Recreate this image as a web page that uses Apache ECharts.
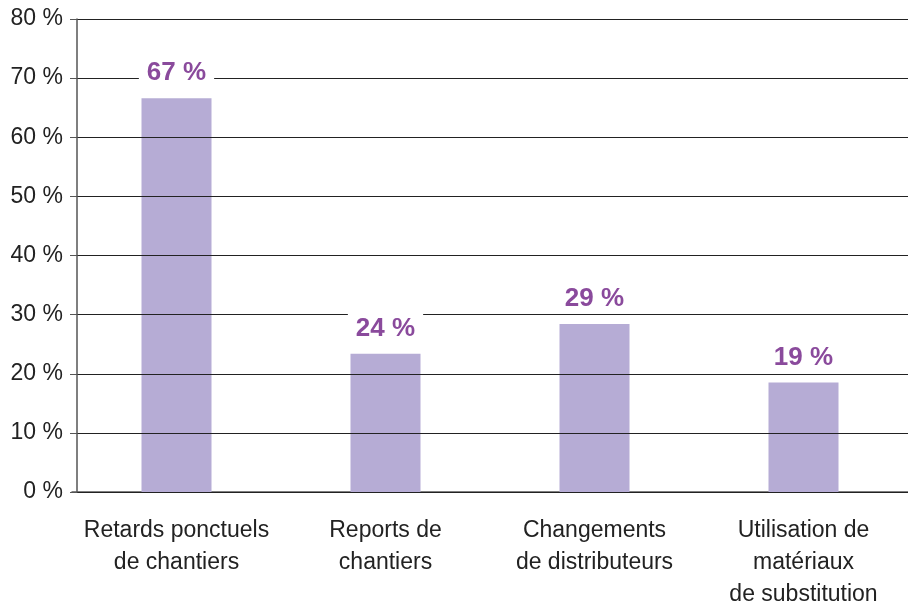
<!DOCTYPE html>
<html>
<head>
    <meta charset="utf-8">
    <title>ECharts</title>
    <script src="https://cdn.jsdelivr.net/npm/echarts@6/dist/echarts.min.js"></script>
    <style>
      html, body { margin: 0; padding: 0; background: #fff; }
      #main { width: 908px; height: 611px; }
    </style>
</head>
<body>
    <div id="main"></div>
    <script type="text/javascript">

// categories and values
let categories = [
  'Retards ponctuels\nde chantiers',
  'Reports de\nchantiers',
  'Changements\nde distributeurs',
  'Utilisation de\nmatériaux\nde substitution'
]
let values = [66.6, 23.4, 28.4, 18.5]
let valueLabels = ['67 %', '24 %', '29 %', '19 %']
let yTicks = [0, 10, 20, 30, 40, 50, 60, 70, 80]

let font = '"Liberation Sans Narrow", "Liberation Sans", Arial, sans-serif'

var option = {
    animation: false,
    grid: {
        left: 72,
        right: -4,
        top: 19,
        bottom: 118
    },
    xAxis: {
        type: 'category',
        data: categories,
        axisLine: { lineStyle: { color: '#555', width: 1.5 } },
        axisTick: { show: false },
        axisLabel: {
            interval: 0,
            margin: 23,
            color: '#222',
            fontSize: 23,
            lineHeight: 32,
            fontFamily: font
        }
    },
    yAxis: {
        type: 'value',
        min: yTicks[0],
        max: yTicks[yTicks.length - 1],
        interval: 10,
        offset: -5,
        z: 3,
        axisLine: { show: true, lineStyle: { color: '#555', width: 1.5 } },
        axisTick: { show: true, length: 7, lineStyle: { color: '#555' } },
        splitLine: { lineStyle: { color: '#222', width: 1 } },
        axisLabel: {
            margin: 14,
            color: '#222',
            fontSize: 23,
            fontFamily: font,
            formatter: '{value} %'
        }
    },
    series: [
        {
            type: 'bar',
            data: values,
            barWidth: 70,
            z: 1,
            itemStyle: { color: '#b6acd5' }
        },
        {
            // label overlay, drawn above the grid lines
            type: 'bar',
            data: values,
            barWidth: 70,
            barGap: '-100%',
            z: 5,
            itemStyle: { color: 'rgba(0,0,0,0)' },
            label: {
                show: true,
                position: 'top',
                distance: 10,
                formatter: p => valueLabels[p.dataIndex],
                color: '#8a4a9c',
                fontSize: 26,
                fontWeight: 'bold',
                fontFamily: font,
                backgroundColor: '#fff',
                padding: [2, 8, 2, 8]
            }
        }
    ]
}

echarts.init(document.getElementById('main')).setOption(option)

    </script>
</body>
</html>
